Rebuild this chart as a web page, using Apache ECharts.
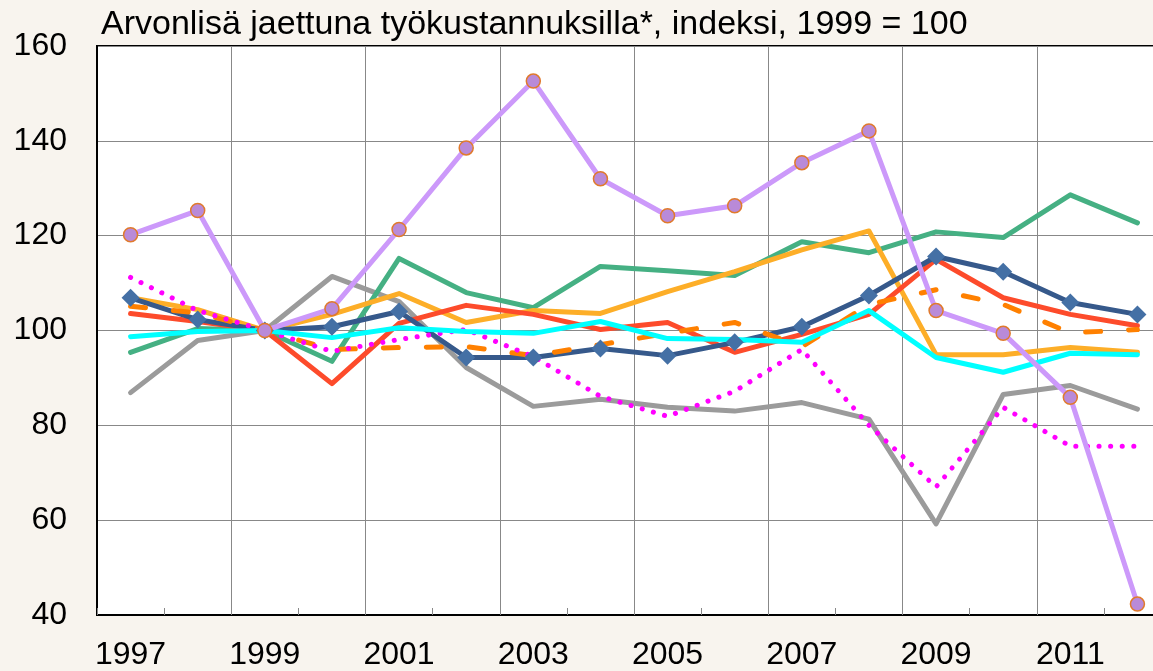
<!DOCTYPE html>
<html>
<head>
<meta charset="utf-8">
<script src="https://cdn.jsdelivr.net/npm/echarts@6/dist/echarts.min.js"></script>
<style>
  html, body { margin: 0; padding: 0; background: #f8f4ee; overflow: hidden; }
  #chart { width: 1185px; height: 671px; }
</style>
</head>
<body>
<div id="chart"></div>
<script>
// vuodet
var years = ['1997', '1998', '1999', '2000', '2001', '2002', '2003', '2004',
             '2005', '2006', '2007', '2008', '2009', '2010', '2011', '2012'];

// sarjat (luettu kuvasta)
var sarjaHarmaa   = [86.9, 97.9, 100, 111.4, 106.1, 92.2, 84.0, 85.5, 83.8, 83.0, 84.8, 81.3, 59.2, 86.5, 88.4, 83.4];
var sarjaVihrea   = [95.4, 100.4, 100, 93.5, 115.2, 108.0, 104.8, 113.5, 112.6, 111.6, 118.7, 116.4, 120.8, 119.6, 128.6, 122.7];
var sarjaKeltainen = [106.9, 104.4, 100, 103.4, 107.8, 101.7, 104.2, 103.6, 108.2, 112.4, 117.0, 121.0, 94.9, 94.9, 96.4, 95.4];
var sarjaPunainen = [103.6, 101.9, 100, 88.8, 101.5, 105.3, 103.4, 100.2, 101.7, 95.4, 99.2, 103.4, 115.0, 106.9, 103.4, 101.0];
var sarjaSininen  = [106.9, 102.3, 100, 100.8, 104.0, 94.3, 94.3, 96.2, 94.7, 97.5, 100.8, 107.4, 115.6, 112.4, 105.9, 103.4];
var sarjaOranssi  = [105.1, 103.7, 100, 96.0, 96.4, 96.6, 94.7, 97.0, 99.4, 101.7, 96.6, 105.5, 108.6, 105.5, 99.5, 100.2];
var sarjaMagenta  = [111.2, 104.2, 100, 95.6, 98.1, 100.2, 94.5, 86.1, 81.9, 87.2, 96.0, 80.0, 67.0, 83.8, 75.6, 75.6];
var sarjaSyaani   = [98.7, 99.8, 100, 98.5, 100.6, 99.8, 99.4, 101.9, 98.3, 98.1, 97.5, 104.2, 94.3, 91.2, 95.2, 94.9];
var sarjaVioletti = [120.2, 125.3, 100, 104.6, 121.3, 138.5, 152.6, 132.0, 124.2, 126.3, 135.4, 142.1, 104.2, 99.4, 85.9, 42.3];

var fontti = '"Liberation Sans", Arial, sans-serif';

var myChart = echarts.init(document.getElementById('chart'));

function viiva(data, color, extra) {
    var s = {
        type: 'line',
        data: data,
        symbol: 'none',
        lineStyle: { color: color, width: 5, cap: 'round', join: 'round' },
        itemStyle: { color: color },
        animation: false,
        silent: true
    };
    for (var k in extra) s[k] = extra[k];
    return s;
}

var option = {
    backgroundColor: '#f8f4ee',
    title: {
        text: 'Arvonlisä jaettuna työkustannuksilla*, indeksi, 1999 = 100',
        left: 96,
        top: 3,
        textStyle: { fontFamily: fontti, fontSize: 34, fontWeight: 'normal', color: '#000' }
    },
    grid: {
        left: 97,
        top: 46,
        width: 1074,
        height: 570,
        show: true,
        backgroundColor: '#fff',
        borderColor: '#000',
        borderWidth: 2
    },
    xAxis: {
        type: 'category',
        data: years,
        boundaryGap: true,
        axisLine: { lineStyle: { color: '#000', width: 2 } },
        axisTick: { show: true, inside: true, length: 7, interval: 0, lineStyle: { color: '#888' } },
        axisLabel: {
            interval: 1,
            margin: 24,
            fontFamily: fontti,
            fontSize: 32,
            color: '#000'
        },
        splitLine: {
            show: true,
            interval: function (i) { return i > 0 && i % 2 === 0; },
            lineStyle: { color: '#888', width: 1 }
        }
    },
    yAxis: {
        type: 'value',
        min: 40,
        max: 160,
        interval: 20,
        axisLine: { show: true, lineStyle: { color: '#000', width: 2 } },
        axisTick: { show: false },
        axisLabel: { margin: 30, fontFamily: fontti, fontSize: 32, color: '#000' },
        splitLine: { show: true, lineStyle: { color: '#888', width: 1 } }
    },
    series: [
        viiva(sarjaHarmaa, '#9b9b9b'),
        viiva(sarjaVihrea, '#45b083'),
        viiva(sarjaKeltainen, '#fdae28'),
        viiva(sarjaPunainen, '#fd4b2b'),
        viiva(sarjaSininen, '#36598b', {
            symbol: 'diamond',
            symbolSize: 18,
            showSymbol: true,
            itemStyle: { color: '#4470a5' }
        }),
        viiva(sarjaOranssi, '#ff8000', {
            lineStyle: { color: '#ff8000', width: 5, type: [15, 28], cap: 'round' }
        }),
        viiva(sarjaMagenta, '#ff00ff', {
            lineStyle: { color: '#ff00ff', width: 5, type: [0.1, 11.5], cap: 'round' }
        }),
        viiva(sarjaSyaani, '#00ffff'),
        viiva(sarjaVioletti, '#cc99fa', {
            symbol: 'circle',
            symbolSize: 14,
            showSymbol: true,
            itemStyle: { color: '#b98ad8', borderColor: '#e07a2c', borderWidth: 1.5 }
        })
    ]
};

myChart.setOption(option);
</script>
</body>
</html>
